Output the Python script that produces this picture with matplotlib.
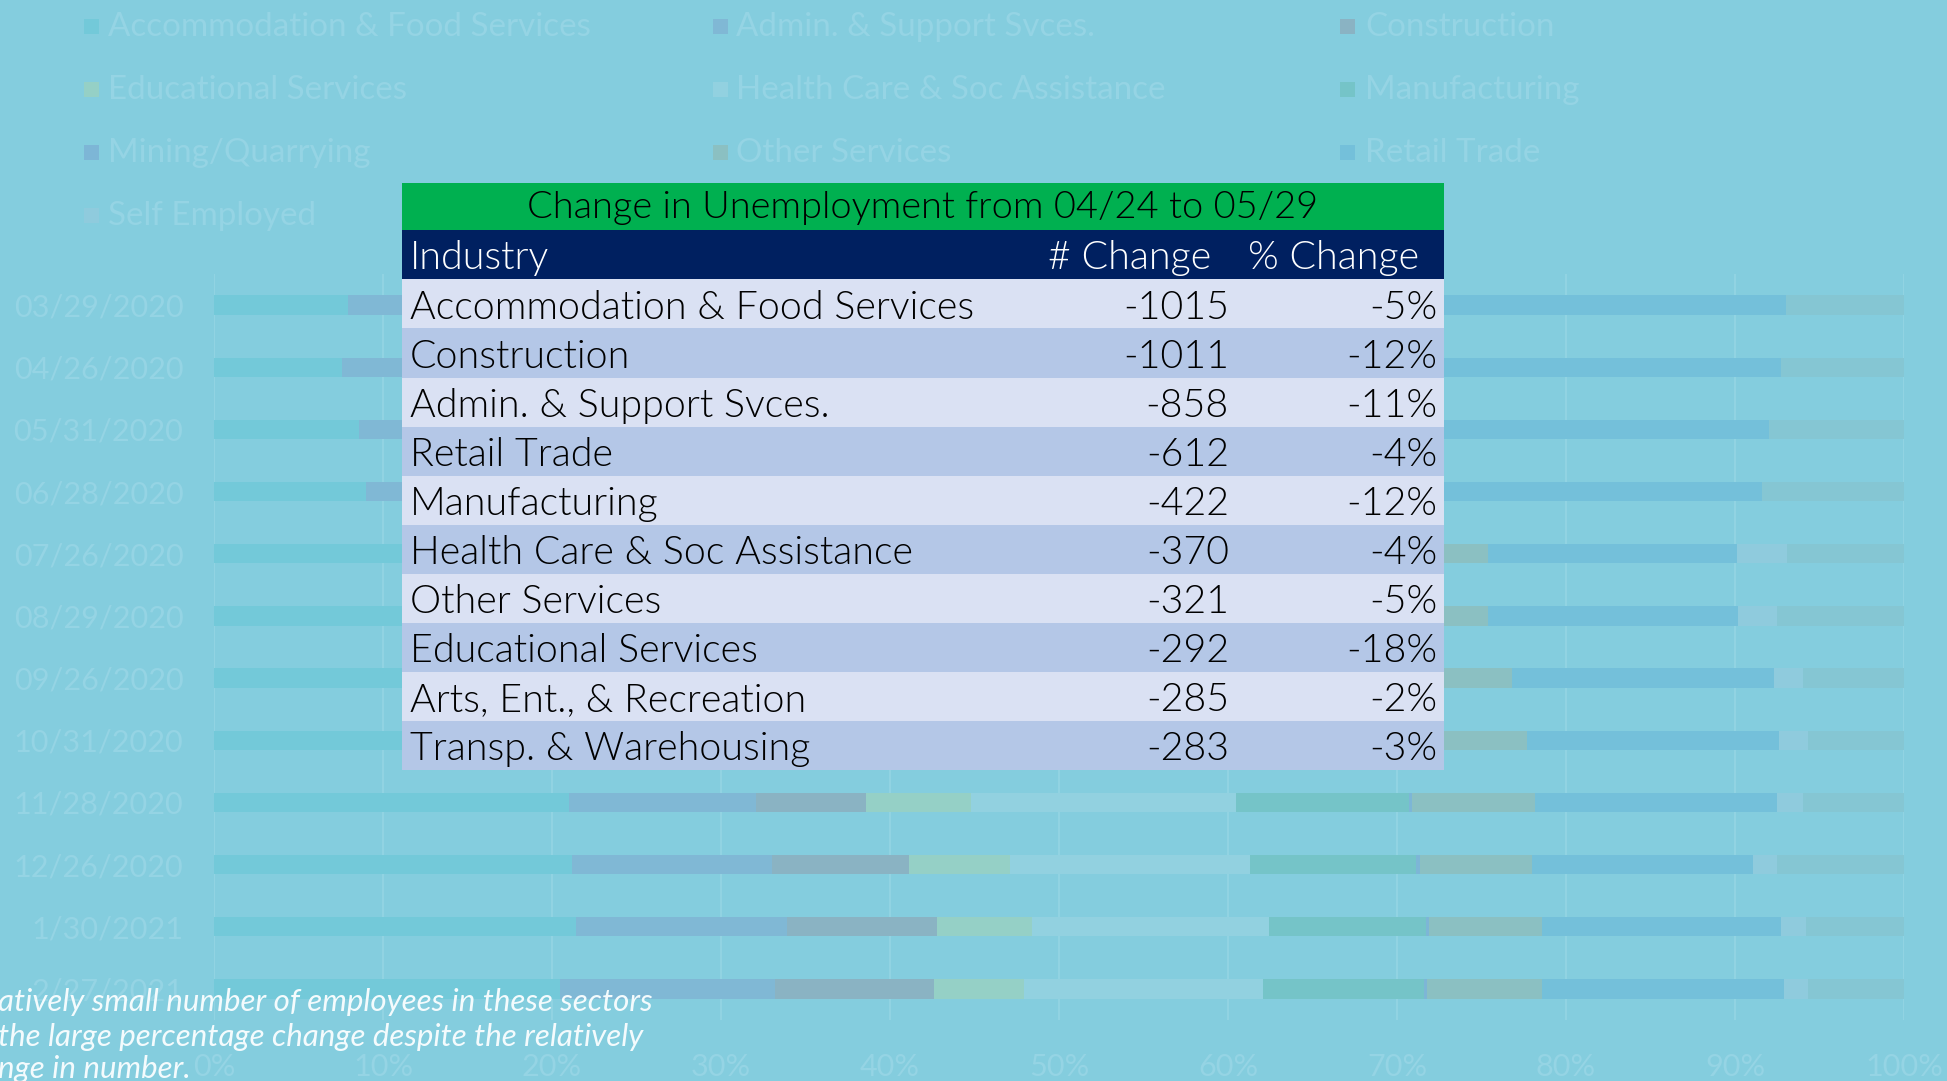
import matplotlib
matplotlib.use("Agg")
import matplotlib.pyplot as plt
from matplotlib.patches import Rectangle
import numpy as np

W, H, DPI = 1947, 1081, 100

# ---------------- data ----------------
dates = ["03/29/2020", "04/26/2020", "05/31/2020", "06/28/2020", "07/26/2020",
         "08/29/2020", "09/26/2020", "10/31/2020", "11/28/2020", "12/26/2020",
         "1/30/2021", "2/27/2021"]

series_names = ["Accommodation & Food Services", "Admin. & Support Svces.", "Construction",
                "Educational Services", "Health Care & Soc Assistance", "Manufacturing",
                "Mining/Quarrying", "Other Services", "Retail Trade", "Self Employed",
                "Transp. & Warehousing"]

accommodation = [7.9, 7.6, 8.6, 9.0, 19.0, 19.5, 20.0, 20.5, 21.0, 21.2, 21.4, 20.5]
admin_support = [6.5, 6.8, 7.0, 7.5, 10.5, 10.5, 10.8, 11.0, 11.1, 11.8, 12.5, 12.7]
construction = [5.5, 5.8, 6.0, 6.2, 6.5, 6.5, 6.5, 6.5, 6.5, 8.1, 8.9, 9.4]
educational = [3.5, 3.6, 3.8, 4.0, 5.0, 5.0, 5.5, 5.5, 6.2, 6.0, 5.6, 5.3]
health_care = [14.0, 14.0, 14.5, 14.5, 15.0, 15.0, 15.5, 15.5, 15.7, 14.2, 14.0, 14.2]
manufacturing = [14.5, 14.0, 13.5, 13.0, 11.0, 11.0, 10.5, 10.5, 10.2, 9.85, 9.3, 9.5]
mining = [0.3, 0.3, 0.3, 0.3, 0.2, 0.2, 0.2, 0.2, 0.2, 0.2, 0.2, 0.2]
other_services = [8.0, 8.0, 8.0, 8.0, 8.2, 7.7, 7.8, 8.0, 7.25, 6.65, 6.7, 6.8]
retail_trade = [32.8, 32.6, 30.3, 29.1, 14.7, 14.8, 15.5, 14.9, 14.35, 13.06, 14.1, 14.3]
self_employed = [0.0, 0.0, 0.0, 0.0, 3.0, 2.3, 1.7, 1.7, 1.5, 1.44, 1.5, 1.4]
transp_warehousing = [7.0, 7.3, 8.0, 8.4, 6.9, 7.5, 6.0, 5.7, 6.0, 7.5, 5.8, 5.7]

series_values = [accommodation, admin_support, construction, educational, health_care,
                 manufacturing, mining, other_services, retail_trade, self_employed,
                 transp_warehousing]

# legend entries that are visible (the last one is hidden behind the table)
legend_count = 10

x_tick_labels = ["0%", "10%", "20%", "30%", "40%", "50%", "60%", "70%", "80%", "90%", "100%"]

table_title = "Change in Unemployment from 04/24 to 05/29"
table_headers = ["Industry", "# Change", "% Change"]
industries = ["Accommodation & Food Services", "Construction", "Admin. & Support Svces.",
              "Retail Trade", "Manufacturing", "Health Care & Soc Assistance",
              "Other Services", "Educational Services", "Arts, Ent., & Recreation",
              "Transp. & Warehousing"]
num_change = [-1015, -1011, -858, -612, -422, -370, -321, -292, -285, -283]
pct_change = [-5, -12, -11, -4, -12, -4, -5, -18, -2, -3]

note_lines = ["atively small number of employees in these sectors",
              "the large percentage change despite the relatively",
              "nge in number."]

# ---------------- style ----------------
BG = "#84CDDE"
GRID = "#93D4E3"
FAINT = "#95D4E4"
colors = ["#73C9D9", "#80B8D5", "#8AB3C3", "#95D0C6", "#92D1E0", "#75C4C8",
          "#7DB6D6", "#8BC0C2", "#74C0DA", "#8FCBDD", "#85C6D3"]
FONT = "Lato"

fig = plt.figure(figsize=(W / DPI, H / DPI), dpi=DPI, facecolor=BG)
renderer = fig.canvas.get_renderer()


def fit(txt, target_px, **kw):
    t = fig.text(0, 0, txt, fontsize=20, **kw)
    w = t.get_window_extent(renderer=renderer).width
    t.remove()
    return 20.0 * target_px / w


TW = 300
tick_fs = fit("03/29/2020", 169, family=FONT)
leg_fs = fit("Accommodation & Food Services", 483, family=FONT)
row_fs = fit("Accommodation & Food Services", 566, family=FONT, fontweight=TW)
title_fs = fit(table_title, 791, family=FONT, fontweight=TW)
note_fs = fit(note_lines[0], 653, family=FONT, fontstyle="italic")

# ---------------- stacked bar chart ----------------
ax_l, ax_r, ax_t, ax_b = 214, 1904, 274, 1020
ax = fig.add_axes([ax_l / W, 1 - ax_b / H, (ax_r - ax_l) / W, (ax_b - ax_t) / H])
ax.set_facecolor(BG)

vals = np.array(series_values, dtype=float)
shares = vals / vals.sum(axis=0)
ypos = np.arange(len(dates))
left = np.zeros(len(dates))
for name, sh, c in zip(series_names, shares, colors):
    ax.barh(ypos, sh, left=left, height=0.31, color=c, linewidth=0, zorder=2, label=name)
    left += sh

ax.set_xlim(0, 1)
ax.set_ylim(len(dates) - 0.5, -0.5)
ax.set_xticks(np.linspace(0, 1, len(x_tick_labels)), x_tick_labels)
ax.set_yticks(ypos, dates)
ax.xaxis.grid(True, color=GRID, linewidth=1.3, zorder=0)
ax.set_axisbelow(True)
for s in ax.spines.values():
    s.set_visible(False)
ax.tick_params(axis="both", length=0, colors=FAINT, labelsize=tick_fs)
ax.tick_params(axis="y", pad=22)
ax.tick_params(axis="x", pad=24)
for lab in ax.get_xticklabels() + ax.get_yticklabels():
    lab.set_family(FONT)
    lab.set_color(FAINT)

# ---------------- overlay (legend, table, note) ----------------
ov = fig.add_axes([0, 0, 1, 1])
ov.set_xlim(0, W)
ov.set_ylim(H, 0)
ov.axis("off")
ov.set_zorder(10)
ov.patch.set_alpha(0)

leg_col_marker = [84, 713, 1340]
leg_col_text = [108, 736, 1365]
leg_row_y = [27, 90, 153, 216]
msz = 15
for i, (name, c) in enumerate(zip(series_names[:legend_count], colors[:legend_count])):
    r, col = divmod(i, 3)
    yy = leg_row_y[r]
    ov.add_patch(Rectangle((leg_col_marker[col], yy - msz / 2 - 1), msz, msz,
                           facecolor=c, edgecolor="none", zorder=1))
    ov.text(leg_col_text[col], yy, name, fontsize=leg_fs, family=FONT,
            color=FAINT, va="center", ha="left", zorder=1)

# table
tx0, tx1 = 402, 1444
title_top, head_top, rows_top, rows_bot = 182.5, 229.7, 279.4, 770
row_h = (rows_bot - rows_top) / len(industries)
ov.add_patch(Rectangle((tx0, title_top), tx1 - tx0, head_top - title_top,
                       facecolor="#00B050", edgecolor="none", zorder=3))
ov.add_patch(Rectangle((tx0, head_top), tx1 - tx0, rows_top - head_top,
                       facecolor="#002060", edgecolor="none", zorder=3))
ov.text((tx0 + tx1) / 2, (title_top + head_top) / 2 + 2, table_title, fontsize=title_fs,
        family=FONT, fontweight=TW, color="black", ha="center", va="center", zorder=4)
hy = (head_top + rows_top) / 2 + 3
ov.text(410, hy, table_headers[0], fontsize=row_fs, family=FONT, fontweight=TW,
        color="white", ha="left", va="center", zorder=4)
ov.text(1211, hy, table_headers[1], fontsize=row_fs, family=FONT, fontweight=TW,
        color="white", ha="right", va="center", zorder=4)
ov.text(1419, hy, table_headers[2], fontsize=row_fs, family=FONT, fontweight=TW,
        color="white", ha="right", va="center", zorder=4)
for i, (ind, n, p) in enumerate(zip(industries, num_change, pct_change)):
    top = rows_top + i * row_h
    fc = "#DAE1F3" if i % 2 == 0 else "#B4C7E7"
    ov.add_patch(Rectangle((tx0, top), tx1 - tx0, row_h, facecolor=fc,
                           edgecolor="none", zorder=3))
    cy = top + row_h / 2 + 4
    ov.text(410, cy, ind, fontsize=row_fs, family=FONT, fontweight=TW, color="black",
            ha="left", va="center", zorder=4)
    ov.text(1229, cy, f"{n}", fontsize=row_fs, family=FONT, fontweight=TW, color="black",
            ha="right", va="center", zorder=4)
    ov.text(1437, cy, f"{p}%", fontsize=row_fs, family=FONT, fontweight=TW, color="black",
            ha="right", va="center", zorder=4)

# note
for k, (line, yy) in enumerate(zip(note_lines, [1002, 1037, 1069])):
    ov.text(-2, yy, line, fontsize=note_fs, family=FONT,
            fontstyle="italic", color="#F4FBFD", ha="left", va="center", zorder=6)

fig.savefig("out.png", dpi=DPI, facecolor=BG)
